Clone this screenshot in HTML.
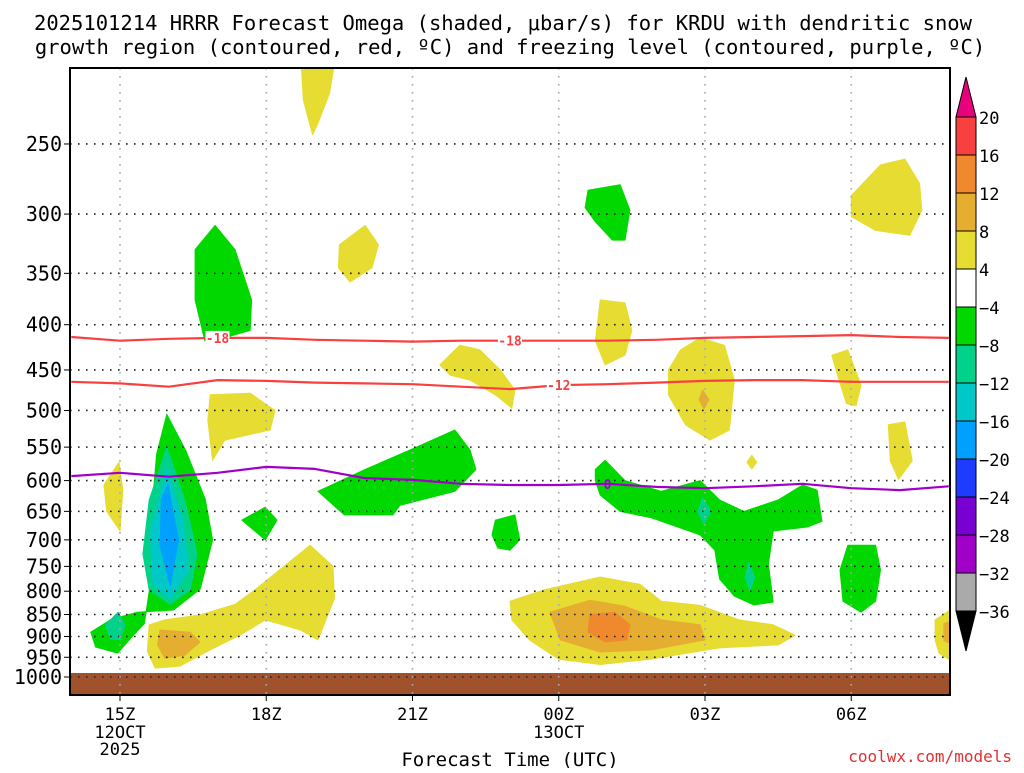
<!DOCTYPE html>
<html><head><meta charset="utf-8">
<style>
body{margin:0;background:#fff;width:1024px;height:768px;overflow:hidden;}
svg text{font-family:"DejaVu Sans Mono","Liberation Mono",monospace;}
</style></head>
<body>
<svg id="chart" width="1024" height="768" xmlns="http://www.w3.org/2000/svg">
<text x="503" y="30" text-anchor="middle" font-size="20.5" fill="#000">2025101214 HRRR Forecast Omega (shaded, μbar/s) for KRDU with dendritic snow</text>
<text x="510" y="54" text-anchor="middle" font-size="20.5" fill="#000">growth region (contoured, red, ºC) and freezing level (contoured, purple, ºC)</text>
<defs><clipPath id="pc"><rect x="70" y="68" width="880" height="627"/></clipPath></defs>
<g id="plot" clip-path="url(#pc)"></g>
<g id="axes"></g>
<g id="cbar"></g>
<text x="510" y="766" text-anchor="middle" font-size="19">Forecast Time (UTC)</text>
<text x="1012" y="762" text-anchor="end" font-size="16" fill="#e03030">coolwx.com/models</text>
</svg>
<script>
// ---- data ----
const pressureTicks=[250,300,350,400,450,500,550,600,650,700,750,800,850,900,950,1000];
const timeTicks=[15,18,21,24,27,30];
const timeLabels=["15Z","18Z","21Z","00Z","03Z","06Z"];
const dateLabels={15:["12OCT","2025"],24:["13OCT"]};
const cbarLevels=[20,16,12,8,4,-4,-8,-12,-16,-20,-24,-28,-32,-36];
const cbarColors=["#f94040","#f0882e","#e6ae30","#e6dc32","#ffffff","#00d800","#00d28c","#00c8c8","#00a0ff","#1e3cff","#7800d2","#a000c8","#aaaaaa"];
const lineHours=[14,15,16,17,18,19,20,21,22,23,24,25,26,27,28,29,30,31,32];
const minus18=[413,417,415,414,414,416,417,418,417,417,417,417,416,414,413,412,411,413,414];
const minus12=[464,466,470,462,463,465,466,467,470,473,468,467,465,463,462,462,464,464,464];
const freezing=[593,588,594,588,579,582,596,599,605,607,607,605,610,612,609,605,612,615,609];
// shaded regions: [[hour, hPa],...]
const yellowBlobs=[
 [[14.98,572],[15.06,615],[15,684],[14.73,650],[14.67,607]],
 [[15.6,873],[15.92,862],[16.64,851],[17.36,828],[17.77,797],[18.9,710],[19.37,750],[19.4,815],[19.06,908],[18.7,885],[17.98,862],[17.46,897],[16.85,932],[16.23,972],[15.72,977],[15.56,935]],
 [[16.85,480],[17.67,478],[18.18,500],[18.08,526],[17.15,540],[16.9,569],[16.8,513]],
 [[18.7,195],[19.45,195],[19.3,219],[19.06,237],[18.95,244],[18.76,223]],
 [[19.5,325],[20.03,309],[20.3,325],[20.17,345],[19.72,358],[19.48,345]],
 [[21.56,444],[21.97,422],[22.38,427],[22.8,450],[23.1,474],[23.04,497],[22.7,480],[22.18,462],[21.77,456]],
 [[24.85,375],[25.36,378],[25.5,406],[25.36,433],[24.95,444],[24.75,417],[24.8,396]],
 [[26.5,427],[26.9,414],[27.4,422],[27.6,462],[27.5,526],[27.1,540],[26.6,519],[26.25,480],[26.25,450]],
 [[29.6,433],[29.93,427],[30.2,468],[30.1,494],[29.9,491],[29.75,462]],
 [[30.76,519],[31.1,515],[31.25,570],[30.97,598],[30.8,570]],
 [[30,286],[30.6,264],[31.1,260],[31.4,277],[31.45,297],[31.2,317],[30.5,313],[30.0,302]],
 [[27.96,562],[28.06,572],[27.96,582],[27.86,572]],
 [[23.0,821],[23.7,797],[24.85,771],[25.67,786],[26.1,821],[26.9,830],[27.7,862],[28.4,873],[28.85,897],[28.5,920],[27.3,927],[25.87,955],[24.85,968],[24.0,955],[23.4,908],[23.04,862]],
 [[31.72,862],[32.2,828],[32.2,970],[31.8,940],[31.72,908]]
];
const lightOrangeBlobs=[
 [[15.82,885],[16.44,890],[16.64,913],[16.33,945],[15.92,952],[15.77,920]],
 [[23.82,845],[24.64,819],[25.36,832],[26.1,862],[26.9,873],[27.0,908],[25.9,932],[24.85,937],[24.03,908]],
 [[26.95,474],[27.08,486],[26.98,498],[26.88,486]],
 [[31.9,870],[32.2,860],[32.2,925],[31.9,910]]
];
const orangeBlobs=[
 [[24.64,850],[25.15,845],[25.46,873],[25.4,908],[24.95,913],[24.6,890]]
];
const greenBlobs=[
 [[15.96,505],[16.35,555],[16.75,630],[16.9,700],[16.65,795],[16.1,840],[15.35,845],[14.8,862],[14.4,890],[14.5,925],[14.95,940],[15.25,900],[15.5,870],[15.6,800],[15.65,650],[15.75,560]],
 [[17.5,665],[17.98,643],[18.22,665],[17.98,700]],
 [[16.54,329],[16.95,309],[17.36,329],[17.7,375],[17.67,406],[17.26,412],[16.74,417],[16.54,375]],
 [[19.06,617],[20.03,583],[20.95,554],[21.87,526],[22.18,554],[22.3,583],[21.87,617],[20.74,640],[20.6,656],[19.6,656]],
 [[22.7,665],[23.1,656],[23.2,700],[23.0,719],[22.75,715],[22.63,691]],
 [[24.6,282],[25.26,278],[25.46,297],[25.36,321],[25.1,321],[24.75,306],[24.54,295]],
 [[24.75,583],[24.95,569],[25.36,600],[26.1,617],[26.9,600],[27.3,631],[27.8,650],[28.5,631],[29.0,607],[29.3,615],[29.4,667],[29.1,677],[28.4,684],[28.3,746],[28.4,823],[28.0,829],[27.6,810],[27.3,775],[27.2,719],[26.9,691],[25.9,661],[25.26,650],[24.85,623],[24.75,600]],
 [[29.93,710],[30.5,710],[30.6,757],[30.5,821],[30.2,845],[29.83,821],[29.77,757]]
];
const tealBlobs=[
 [[15.96,550],[16.33,631],[16.58,726],[16.44,797],[16.03,828],[15.6,797],[15.47,726],[15.6,631]],
 [[14.96,845],[15.1,873],[15,908],[14.8,905],[14.7,873]],
 [[26.95,628],[27.12,650],[26.98,672],[26.85,650]],
 [[27.9,742],[28.02,771],[27.92,800],[27.82,771]]
];
const cyanBlobs=[[[15.96,580],[16.28,665],[16.4,757],[16.03,816],[15.68,784],[15.62,687]]];
const blueBlobs=[[[15.98,605],[16.2,700],[16.03,790],[15.82,710],[15.85,631]]];

// ---- axes functions ----
const X=h=>120+(h-15)*48.75;
const Y=p=>677-384.5*Math.log(1000/p);
const NS="http://www.w3.org/2000/svg";
function mk(tag,attrs,parent){const e=document.createElementNS(NS,tag);for(const k in attrs)e.setAttribute(k,attrs[k]);parent.appendChild(e);return e;}
const plot=document.getElementById('plot'),axes=document.getElementById('axes'),cbar=document.getElementById('cbar');

function poly(list,color,name){list.forEach(pts=>{
 const p=mk('polygon',{points:pts.map(q=>X(q[0]).toFixed(1)+','+Y(q[1]).toFixed(1)).join(' '),fill:color,stroke:color,'stroke-width':1,'stroke-linejoin':'round'},plot);
 
 
});}
poly(yellowBlobs,"#e6dc32","omega-positive-4-8");
poly(lightOrangeBlobs,"#e6ae30","omega-positive-8-12");
poly(orangeBlobs,"#f0882e","omega-positive-12-16");
poly(greenBlobs,"#00d800","omega-negative-4-8");
poly(tealBlobs,"#00d28c","omega-negative-8-12");
poly(cyanBlobs,"#00c8c8","omega-negative-12-16");
poly(blueBlobs,"#00a0ff","omega-negative-16-20");

const g=mk('rect',{x:70,y:673,width:880,height:24,fill:"#a0522d"},plot);



pressureTicks.forEach(p=>{
 const l=mk('line',{x1:70,x2:950,y1:Y(p),y2:Y(p),stroke:"#222","stroke-width":1.6,"stroke-dasharray":"1.6 6.4"},plot);
 
 
});
timeTicks.forEach(h=>{
 const l=mk('line',{x1:X(h),x2:X(h),y1:68,y2:695,stroke:"#aaa","stroke-width":1.6,"stroke-dasharray":"1.6 6.4"},plot);
 
 
});

function cline(vals,color,name){
 const d=lineHours.map((h,i)=>(i?'L':'M')+X(h).toFixed(1)+','+Y(vals[i]).toFixed(1)).join(' ');
 const e=mk('path',{d:d,fill:'none',stroke:color,'stroke-width':2.2,'stroke-linejoin':'round'},plot);
 
 
}
cline(minus18,"#f84040","contour-minus-18c");
cline(minus12,"#f84040","contour-minus-12c");
cline(freezing,"#a000c8","freezing-level-contour");
function clabel(h,vals,txt,color){
 const i=lineHours.indexOf(Math.round(h));
 const x=X(h),y=Y(vals[i]);
 mk('rect',{x:x-12,y:y-7,width:24,height:14,fill:'#fff'},plot);
 const t=mk('text',{x:x,y:y+5,'text-anchor':'middle','font-size':13,'font-weight':'bold',fill:color},plot);
 t.textContent=txt;
 
 
}
clabel(17,minus18,"-18","#f84040");
clabel(23,minus18,"-18","#f84040");
clabel(24,minus12,"-12","#f84040");
const fl=mk('text',{x:X(25),y:Y(freezing[11])+5,'text-anchor':'middle','font-size':13,'font-weight':'bold',fill:'#a000c8'},plot);
fl.textContent="0";



const fr=mk('rect',{x:70,y:68,width:880,height:627,fill:'none',stroke:'#000','stroke-width':2},axes);


pressureTicks.forEach(p=>{
 mk('line',{x1:64,x2:70,y1:Y(p),y2:Y(p),stroke:'#000','stroke-width':1},axes);
 const t=mk('text',{x:62,y:Y(p)+7,'text-anchor':'end','font-size':20},axes);
 t.textContent=p;
 
 
});
timeTicks.forEach((h,i)=>{
 mk('line',{x1:X(h),x2:X(h),y1:695,y2:701,stroke:'#000'},axes);
 const t=mk('text',{x:X(h),y:720,'text-anchor':'middle','font-size':17},axes);
 t.textContent=timeLabels[i];
 
 
 (dateLabels[h]||[]).forEach((s,j)=>{
  const d=mk('text',{x:X(h),y:738+j*17,'text-anchor':'middle','font-size':17},axes);
  d.textContent=s;
  
  
 });
});

const cx=956,cw=20,ctop=117,ch=38;
const up=mk('polygon',{points:`${cx},${ctop} ${cx+cw},${ctop} ${cx+cw/2},${ctop-40}`,fill:'#e8007c',stroke:'#000'},cbar);


cbarColors.forEach((c,i)=>{
 const r=mk('rect',{x:cx,y:ctop+i*ch,width:cw,height:ch,fill:c,stroke:'#000','stroke-width':1},cbar);
 
 
});
const bot=ctop+cbarColors.length*ch;
const dn=mk('polygon',{points:`${cx},${bot} ${cx+cw},${bot} ${cx+cw/2},${bot+40}`,fill:'#000',stroke:'#000'},cbar);


cbarLevels.forEach((v,i)=>{
 const t=mk('text',{x:979,y:ctop+i*ch+7,'font-size':17},cbar);
 t.textContent=(v<0?'\u2212'+(-v):v);
 
 
});
</script>
</body></html>
